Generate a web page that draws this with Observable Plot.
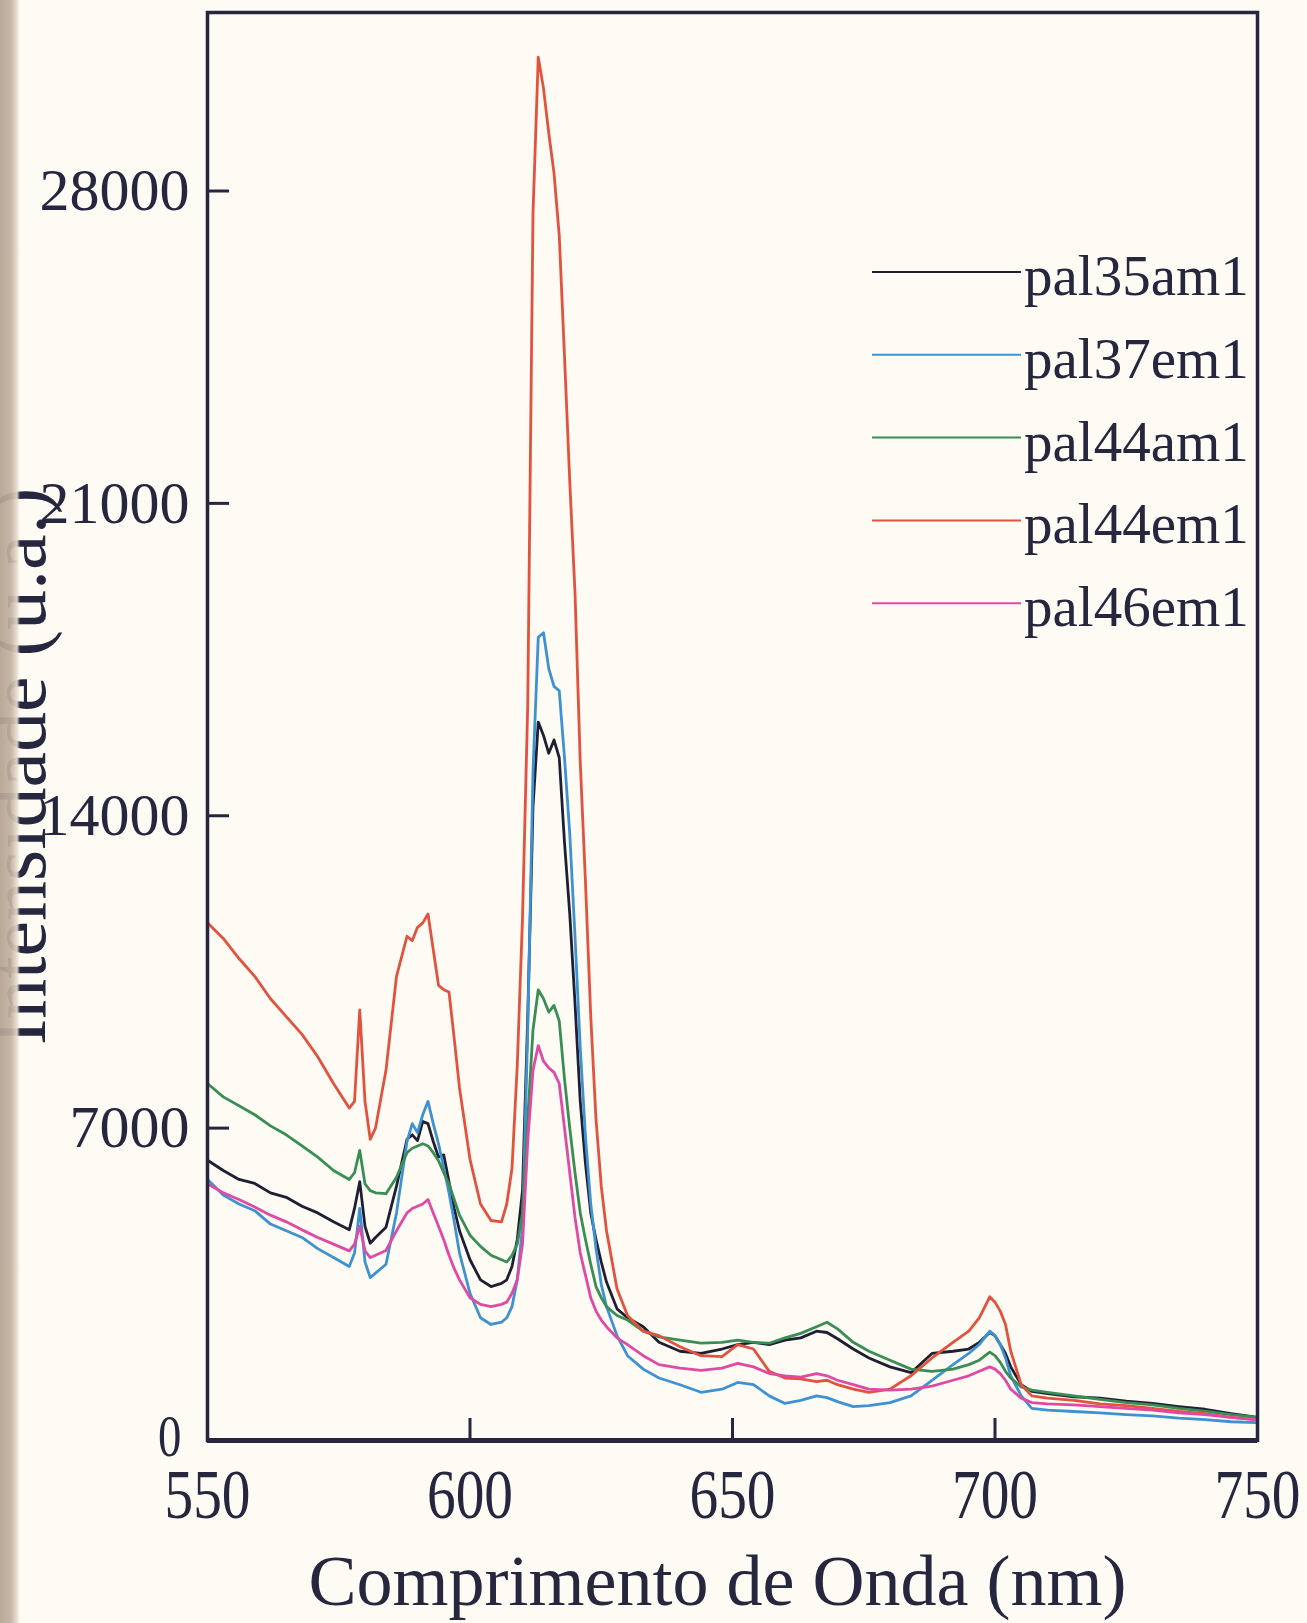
<!DOCTYPE html>
<html>
<head>
<meta charset="utf-8">
<script src="https://cdn.jsdelivr.net/npm/d3@7"></script>
<script src="https://cdn.jsdelivr.net/npm/@observablehq/plot@0.6"></script>
<style>
  html, body { margin: 0; padding: 0; background: #fdfbf3; }
  #wrap { position: relative; width: 1307px; height: 1623px; overflow: hidden; background: #fdfbf3; }
  #strip { position: absolute; left: 0; top: 0; width: 20px; height: 1623px;
           background: linear-gradient(to right, #b3a292 0%, #c2b2a2 55%, #e6ddd0 85%, rgba(253,251,243,0) 100%); opacity: 0.93; }
  #legend { position: absolute; left: 0; top: 0; }
</style>
</head>
<body>
<div id="wrap"><div id="chart"></div><svg id="legend" width="1307" height="700"></svg><div id="strip"></div></div>
<script>
// ---------- data ----------
const seriesNames = ["pal35am1", "pal37em1", "pal44am1", "pal44em1", "pal46em1"];
const seriesColors = ["#1f1f33", "#3f92d2", "#3a8e55", "#e2533f", "#e04aa4"];

const wavelengths = [
  550, 553, 556, 559, 562, 565, 568, 571, 574, 577,
  578, 579, 580, 581, 582, 584, 586, 588, 589, 590,
  591, 592, 593, 594, 595, 596, 597, 598, 600, 602,
  604, 606, 607, 608, 609, 610, 611, 612, 613, 614,
  615, 616, 617, 618, 619, 620, 621, 622, 623, 624,
  625, 626, 628, 630, 633, 636, 640, 644, 648, 651,
  654, 657, 660, 663, 666, 668, 670, 673, 676, 680,
  684, 688, 692, 695, 697, 699, 700, 701, 702, 703,
  705, 707, 710, 715, 720, 725, 730, 735, 740, 745,
  750
];

const pal35am1 = [
  6280, 6050, 5850, 5760, 5550, 5450, 5250, 5100, 4900, 4720,
  5200, 5800, 4800, 4420, 4550, 4780, 5700, 6750, 6850, 6720,
  7150, 7100, 6700, 6350, 6400, 5800, 5200, 4700, 4050, 3600,
  3450, 3520, 3600, 3900, 4500, 5600, 9500, 14200, 16100, 15800,
  15400, 15700, 15300, 13400, 11800, 9800, 7600, 6200, 5100, 4500,
  4000, 3550, 2950, 2750, 2550, 2200, 2000, 1950, 2050, 2150,
  2200, 2150, 2250, 2300, 2450, 2420, 2280, 2050, 1850, 1650,
  1520, 1950, 2000, 2050, 2200, 2420, 2350, 2150, 1950, 1650,
  1250, 1100, 1050, 980, 950, 880, 830, 760, 700, 600,
  520
];

const pal37em1 = [
  5850, 5500, 5300, 5150, 4850, 4700, 4550, 4300, 4100, 3900,
  4200, 5200, 4000, 3650, 3750, 3950, 5100, 6700, 7100, 6900,
  7300, 7600, 7100, 6650, 6100, 5550, 4900, 4200, 3300, 2750,
  2600, 2650, 2750, 3000, 3600, 4800, 9200, 15000, 18000, 18100,
  17300, 16900, 16800, 15300, 13600, 11300, 8800, 6800, 5300, 4300,
  3500, 3000, 2350, 1900, 1600, 1400, 1250, 1080, 1150, 1300,
  1250, 1000, 830, 900, 1000, 960, 870, 760, 780, 850,
  1000, 1350, 1700, 1950, 2150, 2450, 2350, 2150, 1850, 1450,
  1000, 720, 680, 650, 620, 580, 550, 500, 470, 420,
  400
];

const pal44am1 = [
  8000, 7700, 7500, 7300, 7050, 6850, 6600, 6350, 6050, 5850,
  6000, 6500, 5750, 5600, 5550, 5530, 5900, 6450, 6550, 6600,
  6650, 6600, 6450, 6270, 6000, 5750, 5400, 5050, 4600, 4350,
  4150, 4050, 4000, 4150, 4400, 5100, 7200, 9200, 10100, 9900,
  9600, 9750, 9400, 8100, 7000, 6000, 5100, 4500, 3950, 3450,
  3200, 3000, 2800, 2700, 2450, 2320, 2250, 2180, 2200, 2250,
  2200, 2180, 2300, 2400, 2550, 2650, 2500, 2200, 2000, 1800,
  1600, 1550, 1600, 1700, 1800, 1980, 1900, 1750, 1550, 1400,
  1200, 1130, 1080, 1000, 920, 850, 800, 720, 660, 580,
  520
];

const pal44em1 = [
  11600, 11250, 10800, 10400, 9900, 9500, 9100, 8600, 8000, 7450,
  7600, 9650, 7600, 6750, 7000, 8300, 10400, 11300, 11200, 11500,
  11600, 11800, 11000, 10200, 10100, 10050, 9000, 7900, 6300, 5300,
  4930, 4900, 5300, 6100, 8400, 11700, 16500, 27500, 31000, 30300,
  29300, 28400, 27000, 24300, 21500, 19000, 15200, 12500, 9500, 7200,
  5700, 4700, 3400, 2800, 2450, 2350, 2100, 1900, 1880, 2150,
  2050, 1550, 1400, 1380, 1320, 1350, 1250, 1150, 1080, 1150,
  1450, 1850, 2200, 2450, 2750, 3220, 3100, 2900, 2600, 2000,
  1250, 1000, 950, 900, 820, 780, 720, 650, 600, 520,
  470
];

const pal46em1 = [
  5750, 5550, 5400, 5230, 5050, 4900, 4720, 4550, 4400, 4250,
  4400, 4800, 4250, 4100, 4150, 4260, 4700, 5100, 5200, 5250,
  5300, 5400, 5100, 4800, 4500, 4150, 3850, 3600, 3200, 3050,
  3000, 3050, 3100, 3300, 3600, 4400, 6700, 8300, 8850, 8500,
  8350, 8250, 8000, 7000, 6000, 5000, 4200, 3700, 3200, 2900,
  2700, 2550, 2300, 2150, 1900, 1700, 1620, 1570, 1620, 1730,
  1650, 1500, 1450, 1420, 1500, 1450, 1350, 1250, 1150, 1130,
  1150, 1220, 1350, 1450, 1550, 1650, 1600, 1500, 1350, 1150,
  950, 850, 820, 800, 760, 720, 680, 620, 580, 520,
  460
];

const xTickValues = [550, 600, 650, 700, 750];
const yTickValues = [0, 7000, 14000, 21000, 28000];
const xTitle = "Comprimento de Onda (nm)";
const yTitle = "Intensidade (u.a.)";

// ---------- build table ----------
const seriesValues = [pal35am1, pal37em1, pal44am1, pal44em1, pal46em1];
const rows = [];
seriesNames.forEach((name, si) => {
  seriesValues[si].forEach((v, i) => rows.push({series: name, wl: wavelengths[i], v}));
});

const ink = "#26263f";
const serif = "'Liberation Serif', 'Times New Roman', Times, serif";

const chart = Plot.plot({
  width: 1307,
  height: 1623,
  marginLeft: 207,
  marginRight: 50,
  marginTop: 12,
  marginBottom: 183,
  style: {fontFamily: serif, background: "transparent", color: ink, overflow: "hidden"},
  x: {domain: [550, 750]},
  y: {domain: [0, 32000]},
  color: {domain: seriesNames, range: seriesColors},
  marks: [
    Plot.line(rows, {x: "wl", y: "v", z: "series", stroke: "series", strokeWidth: 2.8, strokeLinejoin: "round"}),
    Plot.frame({stroke: ink, strokeWidth: 3.5}),
    Plot.ruleY([0], {stroke: ink, strokeWidth: 5}),
    // inward tick marks
    Plot.axisY(yTickValues.filter(d => d > 0), {anchor: "left", tickSize: 22, dx: 22, strokeWidth: 3, tickFormat: () => "", label: null}),
    Plot.axisX(xTickValues.filter(d => d > 550 && d < 750), {anchor: "bottom", tickSize: 22, dy: -22, strokeWidth: 3, tickFormat: () => "", label: null}),
    // tick labels
    Plot.axisY(yTickValues, {anchor: "left", tickSize: 0, tickPadding: 18, fontSize: 60, tickFormat: d3.format("d"), label: null}),
    Plot.axisX(xTickValues, {anchor: "bottom", tickSize: 0, tickPadding: 28, fontSize: 70, tickFormat: d3.format("d"), label: null}),
    // axis titles
    Plot.text([xTitle], {frameAnchor: "bottom", text: d => d, textAnchor: "middle", dx: -15, dy: 164, fontSize: 72, fill: ink}),
    Plot.text([yTitle], {frameAnchor: "left", text: d => d, textAnchor: "middle", rotate: -90, lineAnchor: "bottom", dx: -163, dy: 40, fontSize: 80, fill: ink})
  ]
});
document.getElementById("chart").appendChild(chart);

// drop the empty labels of the tick-only axes
d3.select(chart).selectAll("text").filter(function() { return this.textContent === ""; }).remove();

// condensed x tick labels (and the "0"), as in the scan
d3.select(chart).selectAll('g[aria-label="x-axis tick label"] text').each(function() {
  const t = this.getAttribute("transform") || "";
  this.setAttribute("transform", t + " scale(0.82,1)");
});
d3.select(chart).selectAll('g[aria-label="y-axis tick label"] text').filter(function() { return this.textContent === "0"; }).each(function() {
  const t = this.getAttribute("transform") || "";
  this.setAttribute("transform", t + " translate(-8,-4) scale(0.78,1)");
});

// ---------- legend ----------
const legend = d3.select("#legend");
seriesNames.forEach((name, i) => {
  const y = 272 + i * 82.8;
  legend.append("line")
    .attr("x1", 872).attr("x2", 1021).attr("y1", y).attr("y2", y)
    .attr("stroke", seriesColors[i]).attr("stroke-width", 2);
  legend.append("text")
    .attr("x", 1024).attr("y", y + 23)
    .attr("font-family", serif).attr("font-size", 57).attr("fill", ink)
    .text(name);
});
</script>
</body>
</html>
